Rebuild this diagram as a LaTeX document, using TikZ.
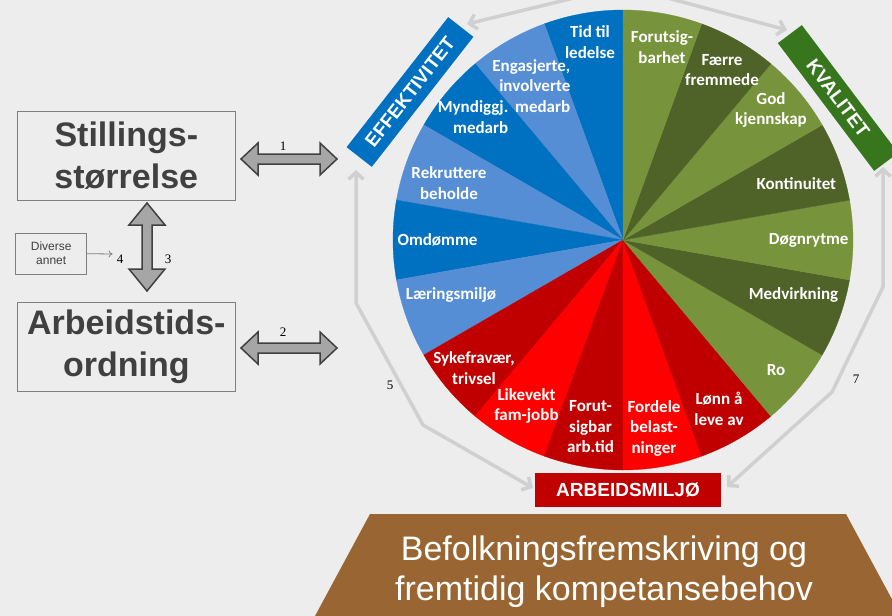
\documentclass[tikz,border=0pt]{standalone}
\usepackage{fontspec}
\setmainfont{Liberation Sans}
\newfontfamily\calib{Carlito}
\newfontfamily\tms{Liberation Serif}
\usetikzlibrary{arrows.meta,calc}
\definecolor{bg}{RGB}{237,237,237}
\definecolor{dblue}{RGB}{0,112,192}
\definecolor{lblue}{RGB}{85,142,213}
\definecolor{lgreen}{RGB}{119,147,60}
\definecolor{dgreen}{RGB}{79,98,40}
\definecolor{dred}{RGB}{192,0,0}
\definecolor{bred}{RGB}{255,0,0}
\definecolor{kgreen}{RGB}{56,118,29}
\definecolor{trapbrown}{RGB}{153,102,51}
\definecolor{cycgray}{RGB}{208,208,208}
\definecolor{boxborder}{RGB}{127,127,127}
\definecolor{txtgray}{RGB}{64,64,64}
\definecolor{arrfill}{RGB}{166,166,166}
\tikzset{
  seglabel/.style={text=white, font=\calib\bfseries\fontsize{17}{20.5}\selectfont, align=center, inner sep=0pt},
  banner/.style={text=white, font=\bfseries\fontsize{19}{22}\selectfont, inner sep=0pt},
  bigbox/.style={draw=boxborder, line width=1pt, minimum width=218, minimum height=89, font=\bfseries\fontsize{34}{42}\selectfont, text=txtgray, align=center, inner sep=0pt},
  smallbox/.style={draw=boxborder, line width=0.8pt, minimum width=71, minimum height=41, font=\fontsize{12}{14}\selectfont, text=txtgray, align=center, inner sep=0pt},
  cyclearrow/.style={draw=cycgray, line width=3.5pt, line join=round, {Straight Barb[length=7pt,width=15pt]}-{Straight Barb[length=7pt,width=15pt]}},
  numlabel/.style={font=\tms\fontsize{13}{15}\selectfont, inner sep=0pt},
  blockarrow/.style={fill=arrfill, draw=txtgray, line width=1.5pt, line join=miter},
  thinarrow/.style={draw=boxborder, line width=0.8pt, -{To[length=4pt,width=7pt]}},
}
\begin{document}
\begin{tikzpicture}[x=1pt,y=-1pt]
\useasboundingbox (0,0) rectangle (892,616);
\fill[bg] (0,0) rectangle (892,616);
\clip (0,0) rectangle (892,616);

% cycle arrows around the wheel
\coordinate (tL) at (467,24);
\coordinate (tM) at (623,-14);
\coordinate (tR) at (787,30);
\coordinate (lA) at (356,170);
\coordinate (lB) at (356,303);
\coordinate (lC) at (423,425);
\coordinate (lD) at (533,488);
\coordinate (rA) at (883,167);
\coordinate (rB) at (883,287);
\coordinate (rC) at (832,392);
\coordinate (rD) at (727,487);
\draw[cyclearrow] (tL) -- (tM) -- (tR);
\draw[cyclearrow] (lA) -- (lB) -- (lC) -- (lD);
\draw[cyclearrow] (rA) -- (rB) -- (rC) -- (rD);
\node[numlabel] (n5) at (390,385) {5};
\node[numlabel] (n7) at (856,379) {7};

% wheel
\coordinate (pc) at (623,240);
\foreach \a/\col in {90/dblue,110/lblue,130/dblue,150/lblue,170/dblue,190/lblue,
  210/dred,230/bred,250/dred,270/bred,290/dred,
  310/lgreen,330/dgreen,350/lgreen,10/dgreen,30/lgreen,50/dgreen,70/lgreen}{
  \filldraw[fill=\col, draw=\col, line width=0.3pt] (pc) -- ++(-\a:230) arc[start angle=-\a, end angle=-\a-20, radius=230] -- cycle;
}

% segment labels
\node[seglabel] (s1) at (590,42) {Tid til\\ledelse};
\node[seglabel, align=right, anchor=east] (s2) at (570.5,86) {Engasjerte,\\involverte\\medarb};
\node[seglabel, align=right, anchor=east] (s3) at (508.5,117) {Myndiggj.\\medarb};
\node[seglabel] (s4) at (449,183) {Rekruttere\\beholde};
\node[seglabel] (s5) at (437.5,240) {Omdømme};
\node[seglabel] (s6) at (451,295) {Læringsmiljø};
\node[seglabel] (s7) at (474,368) {Sykefravær,\\trivsel};
\node[seglabel] (s8) at (526.5,406) {Likevekt\\fam-jobb};
\node[seglabel] (s9) at (590.5,427) {Forut-\\sigbar\\arb.tid};
\node[seglabel] (s10) at (654,428) {Fordele\\belast-\\ninger};
\node[seglabel] (s11) at (719,409) {Lønn å\\leve av};
\node[seglabel] (s12) at (776,370) {Ro};
\node[seglabel] (s13) at (793.5,295) {Medvirkning};
\node[seglabel] (s14) at (808.7,240) {Døgnrytme};
\node[seglabel] (s15) at (796.3,183.3) {Kontinuitet};
\node[seglabel] (s16) at (771,110) {God\\kjennskap};
\node[seglabel] (s17) at (722,70) {Færre\\fremmede};
\node[seglabel] (s18) at (662,47) {Forutsig-\\barhet};

% banners
\node[banner, fill=dblue, minimum width=165, minimum height=32, rotate=52] (eff) at (410,92) {EFFEKTIVITET};
\node[banner, fill=kgreen, minimum width=160, minimum height=30, rotate=-53] (kval) at (838,98) {KVALITET};
\node[banner, fill=dred, minimum width=186, minimum height=34] (arb) at (628,490) {ARBEIDSMILJØ};

% base trapezoid
\fill[trapbrown] (370,514) -- (846,514) -- (901,616) -- (315,616) -- cycle;
\node[text=white, font=\fontsize{34}{40}\selectfont, align=center, inner sep=0pt] (bef) at (604,572) {Befolkningsfremskriving og\\fremtidig kompetansebehov};

% left side
\node[bigbox] (stil) at (126.3,155.5) {Stillings-\\størrelse};
\node[bigbox] (arbt) at (126.3,346.5) {Arbeidstids-\\ordning};
\node[smallbox] (div) at (51.2,253.7) {Diverse\\annet};
\node[numlabel] (n4) at (120,259) {4};
\node[numlabel] (n3) at (168,259) {3};
\node[numlabel] (n1) at (283,146) {1};
\node[numlabel] (n2) at (283,332) {2};
\draw[thinarrow] (div.east) -- ($(n4.west)+(-4,-5)$);

\coordinate (h1a) at (241,159);
\coordinate (h1b) at (337,159);
\coordinate (h2a) at (241,348);
\coordinate (h2b) at (337,348);
\coordinate (v1a) at (147,203);
\coordinate (v1b) at (147,291);
\draw[blockarrow] (h1a) -- ++(17,-16) -- ++(0,11) -- ($(h1b)+(-17,-5)$) -- ++(0,-11) -- (h1b) -- ++(-17,16) -- ++(0,-11) -- ($(h1a)+(17,5)$) -- ++(0,11) -- cycle;
\draw[blockarrow] (h2a) -- ++(17,-16) -- ++(0,11) -- ($(h2b)+(-17,-5)$) -- ++(0,-11) -- (h2b) -- ++(-17,16) -- ++(0,-11) -- ($(h2a)+(17,5)$) -- ++(0,11) -- cycle;
\draw[blockarrow] (v1a) -- ++(18,22) -- ++(-13,0) -- ($(v1b)+(5,-22)$) -- ++(13,0) -- (v1b) -- ++(-18,-22) -- ++(13,0) -- ($(v1a)+(-5,22)$) -- ++(-13,0) -- cycle;
\end{tikzpicture}
\end{document}
